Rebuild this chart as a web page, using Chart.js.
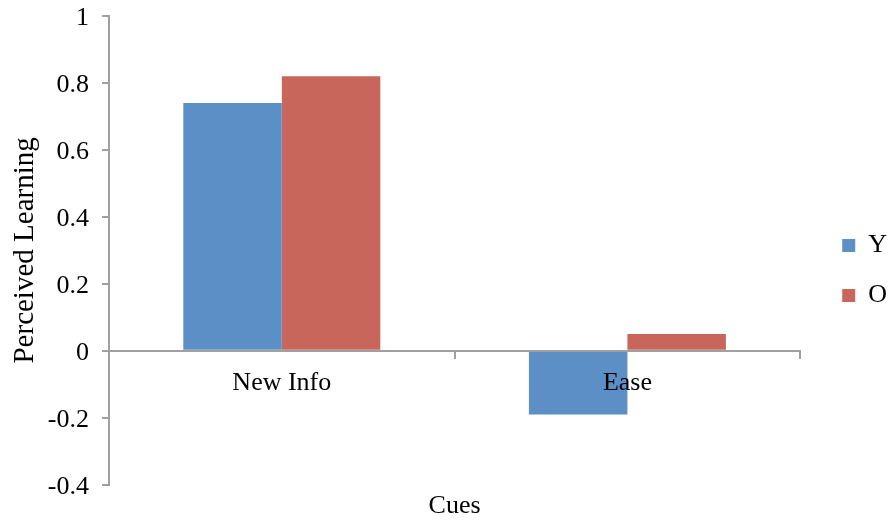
<!DOCTYPE html>
<html>
<head>
<meta charset="utf-8">
<script src="https://cdn.jsdelivr.net/npm/chart.js@4/dist/chart.umd.min.js"></script>
<style>
  html, body { margin: 0; padding: 0; background: #ffffff; }
  #wrap { width: 888px; height: 522px; }
</style>
</head>
<body>
<div id="wrap"><canvas id="chart" width="888" height="522"></canvas></div>
<script>
// Perceived learning by cue, for the Y and O groups
const categories = ['New Info', 'Ease'];
const seriesNames = ['Y', 'O'];
const valuesY = [0.74, -0.19];
const valuesO = [0.82, 0.05];
const yTicks = [-0.4, -0.2, 0, 0.2, 0.4, 0.6, 0.8, 1];
const yTickLabels = ['-0.4', '-0.2', '0', '0.2', '0.4', '0.6', '0.8', '1'];

const FONT = 'Liberation Serif';
const AXIS_GREY = '#a0a0a0';

new Chart(document.getElementById('chart'), {
  type: 'bar',
  data: {
    labels: categories,
    datasets: [
      { label: seriesNames[0], data: valuesY, backgroundColor: '#5b8fc6', borderWidth: 0 },
      { label: seriesNames[1], data: valuesO, backgroundColor: '#c9665b', borderWidth: 0 }
    ]
  },
  options: {
    responsive: false,
    animation: false,
    devicePixelRatio: 1,
    layout: { padding: { left: 0, right: -9, top: 0, bottom: 0 } },
    datasets: { bar: { categoryPercentage: 0.57, barPercentage: 1.0 } },
    scales: {
      x: {
        position: { y: 0 },
        offset: true,
        grid: { display: true, drawOnChartArea: false, drawTicks: true, tickLength: 7, color: AXIS_GREY, lineWidth: 2, offset: true },
        // zero line and category names are drawn on top of the bars
        border: { display: true, color: AXIS_GREY, width: 2, z: 1 },
        ticks: { color: '#000', font: { family: FONT, size: 26 }, padding: 10, maxRotation: 0, z: 1 }
      },
      y: {
        min: -0.4,
        max: 1,
        afterBuildTicks: (s) => { s.ticks = yTicks.map(v => ({ value: v })); },
        afterFit: (s) => { s.width = 109; s.paddingTop = 16; s.paddingBottom = 16; },
        grid: { display: true, drawOnChartArea: false, drawTicks: true, tickLength: 7, color: AXIS_GREY, lineWidth: 2 },
        border: { display: true, color: AXIS_GREY, width: 2 },
        ticks: {
          color: '#000',
          font: { family: FONT, size: 26 },
          padding: 13,
          labelOffset: 2,
          callback: (v) => yTickLabels[yTicks.indexOf(Math.round(v * 10) / 10)]
        },
        title: { display: true, text: 'Perceived Learning', color: '#000', font: { family: FONT, size: 29 }, padding: { top: 7.5, bottom: 0 } }
      },
      gap: {
        // empty right-hand spacer that keeps the legend clear of the plot
        type: 'linear',
        position: 'right',
        display: true,
        grid: { display: false },
        border: { display: false },
        ticks: { display: false },
        afterFit: (s) => { s.width = 18; }
      }
    },
    plugins: {
      legend: {
        position: 'right',
        align: 'center',
        title: { display: true, text: '', font: { size: 10 }, padding: { top: 3.5, bottom: 3.5 } },
        labels: { color: '#000', font: { family: FONT, size: 26 }, boxWidth: 13, boxHeight: 13, padding: 24 }
      },
      title: {
        display: true,
        text: 'Cues',
        position: 'bottom',
        fullSize: false,
        color: '#000',
        font: { family: FONT, size: 26, weight: 'normal' },
        padding: { top: 6, bottom: 0 }
      },
      tooltip: { enabled: false }
    }
  }
});
</script>
</body>
</html>
